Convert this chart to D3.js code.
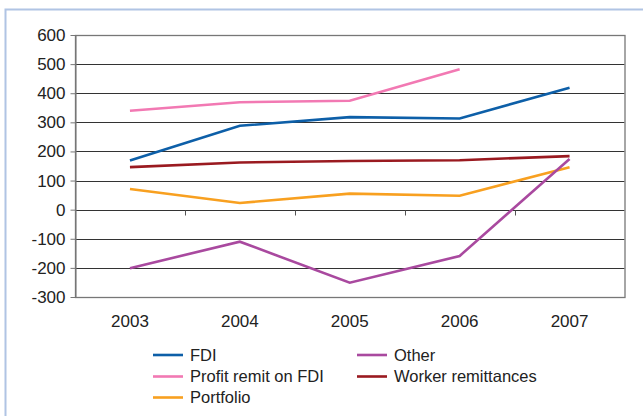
<!DOCTYPE html>
<html>
<head>
<meta charset="utf-8">
<script src="https://cdn.jsdelivr.net/npm/d3@7"></script>
<style>
body { margin: 0; background: #fff; }
svg text { font-family: "Liberation Sans", Arial, sans-serif; fill: #222; }
</style>
</head>
<body>
<div id="chart"></div>
<script>
var years = ["2003", "2004", "2005", "2006", "2007"];
var yTicks = [-300, -200, -100, 0, 100, 200, 300, 400, 500, 600];
var fdi = [169, 288, 318, 313, 419];
var profitRemit = [340, 369, 374, 482, null];
var workerRem = [146, 162, 167, 170, 184];
var portfolio = [71, 23, 55, 48, 146];
var other = [-201, -110, -251, -159, 174];

var series = [
	{name: "FDI", values: fdi, color: "#0d5fa8"},
	{name: "Other", values: other, color: "#a9499f"},
	{name: "Profit remit on FDI", values: profitRemit, color: "#f279b3"},
	{name: "Worker remittances", values: workerRem, color: "#9a1a20"},
	{name: "Portfolio", values: portfolio, color: "#f8a020"}
];
// draw order (back to front)
var drawOrder = ["Profit remit on FDI", "FDI", "Worker remittances", "Portfolio", "Other"];

var width = 643, height = 416,
	plotLeft = 75, plotRight = 624.5, plotTop = 35, plotBottom = 297;

var svg = d3.select("#chart").append("svg")
	.attr("width", width)
	.attr("height", height);

// outer frame
svg.append("path")
	.attr("d", "M5.5,416 V9.5 H643")
	.attr("fill", "none")
	.attr("stroke", "#b0c4e4")
	.attr("stroke-width", 2);

var x = d3.scaleBand().domain(years).range([plotLeft, plotRight]);
var y = d3.scaleLinear().domain([-300, 600]).range([plotBottom, plotTop]);

// gridlines
svg.append("g").selectAll("line")
	.data(yTicks)
	.enter().append("line")
	.attr("x1", plotLeft).attr("x2", plotRight)
	.attr("y1", function(d){ return Math.round(y(d)) + 0.5; })
	.attr("y2", function(d){ return Math.round(y(d)) + 0.5; })
	.attr("stroke", "#333")
	.attr("stroke-width", 1);

// plot border
svg.append("rect")
	.attr("x", plotLeft + 0.5).attr("y", Math.round(y(600)) + 0.5)
	.attr("width", plotRight - plotLeft)
	.attr("height", Math.round(y(-300)) - Math.round(y(600)))
	.attr("fill", "none")
	.attr("stroke", "#777")
	.attr("stroke-width", 1.3);

// y axis (plain hyphen for negatives, like the original)
var yAxis = d3.axisLeft(y).tickValues(yTicks)
	.tickFormat(function(d){ return String(d); })
	.tickSize(5).tickPadding(5).tickSizeOuter(0);
var gy = svg.append("g")
	.attr("transform", "translate(" + (plotLeft + 0.5) + ",0)")
	.call(yAxis);
gy.select(".domain").attr("stroke", "#777");
gy.selectAll(".tick line").attr("stroke", "#777");
gy.selectAll("text").style("font-size", "17px").attr("fill", "#222");

// category ticks on zero line
var gx = svg.append("g")
	.attr("transform", "translate(0," + (Math.round(y(0)) + 0.5) + ")");
gx.selectAll("line")
	.data(years.slice(1))
	.enter().append("line")
	.attr("x1", function(d){ return Math.round(x(d)) + 0.5; })
	.attr("x2", function(d){ return Math.round(x(d)) + 0.5; })
	.attr("y1", 0).attr("y2", 5)
	.attr("stroke", "#555");

// category labels
svg.append("g").selectAll("text")
	.data(years)
	.enter().append("text")
	.attr("x", function(d){ return x(d) + x.bandwidth() / 2; })
	.attr("y", 327)
	.attr("text-anchor", "middle")
	.style("font-size", "17px")
	.text(function(d){ return d; });

// lines
var line = d3.line()
	.defined(function(d){ return d.v != null; })
	.x(function(d){ return x(d.year) + x.bandwidth() / 2; })
	.y(function(d){ return y(d.v); });

drawOrder.forEach(function(name) {
	var s = series.find(function(t){ return t.name === name; });
	var pts = years.map(function(yr, i){ return {year: yr, v: s.values[i]}; });
	svg.append("path")
		.datum(pts)
		.attr("d", line)
		.attr("fill", "none")
		.attr("stroke", s.color)
		.attr("stroke-width", 2.6);
});

// legend
var legendPos = {
	"FDI": [153, 355],
	"Profit remit on FDI": [153, 376.5],
	"Portfolio": [153, 397.5],
	"Other": [357, 355],
	"Worker remittances": [357, 376.5]
};
var lg = svg.append("g").selectAll("g")
	.data(series)
	.enter().append("g")
	.attr("transform", function(d){ return "translate(" + legendPos[d.name][0] + "," + legendPos[d.name][1] + ")"; });
lg.append("line")
	.attr("x1", 0).attr("x2", 30)
	.attr("stroke", function(d){ return d.color; })
	.attr("stroke-width", 2.6);
lg.append("text")
	.attr("x", 37)
	.attr("dy", "0.35em")
	.style("font-size", "16.5px")
	.text(function(d){ return d.name; });
</script>
</body>
</html>
